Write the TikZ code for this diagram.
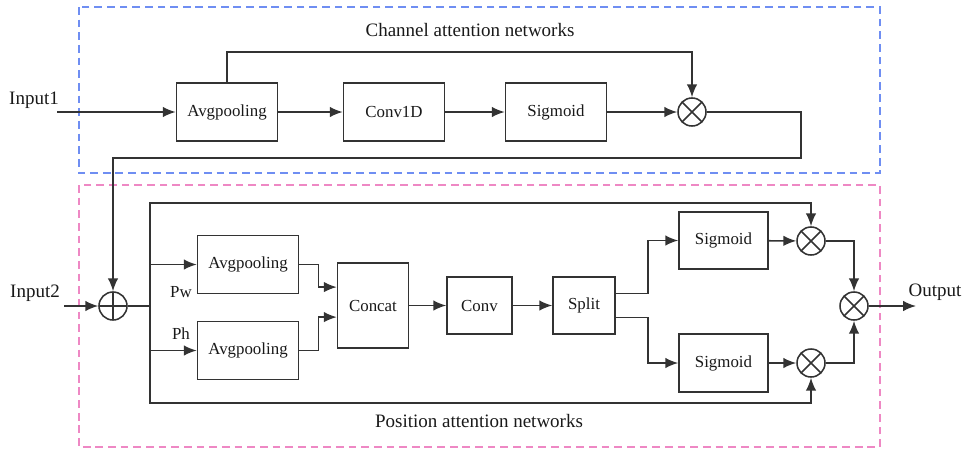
\documentclass[tikz,border=0pt]{standalone}
\usepackage{fontspec}
\setmainfont{Liberation Serif}
\usetikzlibrary{arrows.meta}
\definecolor{ink}{HTML}{333333}
\definecolor{chanblue}{HTML}{6F8EF2}
\definecolor{pospink}{HTML}{EE88C4}
\tikzset{
  box/.style   = {rectangle, draw=ink, line width=1.1pt, text=black!90,
                  minimum width=2.525cm, minimum height=1.45cm, align=center,
                  font=\fontsize{12}{14}\selectfont},
  mult/.style  = {circle, draw=ink, line width=1.1pt, minimum size=0.7cm, inner sep=0pt,
                  path picture={\draw[ink, line width=1.1pt]
                    (path picture bounding box.north west) -- (path picture bounding box.south east)
                    (path picture bounding box.north east) -- (path picture bounding box.south west);}},
  add/.style   = {circle, draw=ink, line width=1.1pt, minimum size=0.7cm, inner sep=0pt,
                  path picture={\draw[ink, line width=1.1pt]
                    (path picture bounding box.north) -- (path picture bounding box.south)
                    (path picture bounding box.west) -- (path picture bounding box.east);}},
  label/.style = {font=\fontsize{13.5}{16}\selectfont, text=black!90},
  tag/.style   = {font=\fontsize{12}{14}\selectfont, text=black!90},
  flow/.style  = {-{Latex[length=3.2mm, width=2.6mm]}, line width=1.1pt, draw=ink},
  wire/.style  = {line width=1.1pt, draw=ink},
  frame/.style = {dash pattern=on 5.5pt off 3.5pt, line width=1.1pt},
}
\begin{document}
\begin{tikzpicture}[x=0.025cm, y=-0.025cm]
      \useasboundingbox (0,0) rectangle (967,448);
      % frames
      \draw[frame, chanblue] (79,7) rectangle (880,173);
      \draw[frame, pospink] (79,185) rectangle (880,447);
      \node[label] (chantitle) at (470,30) {Channel attention networks};
      \node[label] (postitle)  at (479,421) {Position attention networks};

      % channel attention
      \node[label] (in1) at (34,100) {Input1};
      \coordinate (in1s) at (57,112);
      \node[box] (cpool)  at (227,112) {Avgpooling};
      \node[box] (conv1d) at (394,112) {Conv1D};
      \node[box] (csig)   at (556,112) {Sigmoid};
      \node[mult] (cmul)  at (692,112) {};
      \coordinate (ctop)  at (692,52);
      \coordinate (cbend) at (801,158);
      \draw[flow] (in1s) -- (cpool);
      \draw[flow] (cpool) -- (conv1d);
      \draw[flow] (conv1d) -- (csig);
      \draw[flow] (csig) -- (cmul);
      \draw[flow] (cpool.north) |- (ctop) -- (cmul);

      % position attention
      \node[label] (in2) at (35,293) {Input2};
      \coordinate (in2s) at (64,306);
      \node[add] (padd) at (113,306) {};
      \draw[flow] (cmul) -| (cbend) -| (padd);
      \draw[flow] (in2s) -- (padd);
      \coordinate (fork) at (150,306);
      \coordinate (ptop) at (150,203);
      \coordinate (pbot) at (150,403);
      \draw[wire] (padd) -- (fork);

      \node[box] (ppoolw) at (248,264.5) {Avgpooling};
      \node[box] (ppoolh) at (248,350.5) {Avgpooling};
      \node[tag] (pw) at (181,292) {Pw};
      \node[tag] (ph) at (181,334) {Ph};
      \node[box, minimum width=1.775cm, minimum height=2.125cm] (concat) at (373,305.5) {Concat};
      \node[box, minimum width=1.625cm, minimum height=1.425cm] (conv)   at (479.5,305.5) {Conv};
      \node[box, minimum width=1.55cm, minimum height=1.425cm]  (split)  at (584,305.5) {Split};
      \node[box, minimum width=2.225cm, minimum height=1.425cm] (psigw)  at (723.5,240.5) {Sigmoid};
      \node[box, minimum width=2.225cm, minimum height=1.45cm]  (psigh)  at (723.5,363) {Sigmoid};
      \node[mult] (pmulw) at (811,241) {};
      \node[mult] (pmulh) at (811,363) {};
      \node[mult] (pout)  at (854,306) {};
      \node[label] (outtxt) at (935,292) {Output};
      \coordinate (outend) at (916,306);

      \draw[flow] (fork) -- (ptop) -| (pmulw);
      \draw[flow] (fork) -- (pbot) -| (pmulh);
      \draw[flow] (ppoolw.west -| fork) -- (ppoolw.west);
      \draw[flow] (ppoolh.west -| fork) -- (ppoolh.west);
      \draw[flow] (ppoolw.east) -- ++(19,0) |- ([yshift=0.46cm]concat.west);
      \draw[flow] (ppoolh.east) -- ++(19,0) |- ([yshift=-0.29cm]concat.west);
      \draw[flow] (concat) -- (conv);
      \draw[flow] (conv) -- (split);
      \draw[flow] ([yshift=0.3cm]split.east) -- ++(32,0) |- (psigw);
      \draw[flow] ([yshift=-0.3cm]split.east) -- ++(32,0) |- (psigh);
      \draw[flow] (psigw) -- (pmulw);
      \draw[flow] (psigh) -- (pmulh);
      \draw[flow] (pmulw) -| (pout);
      \draw[flow] (pmulh) -| (pout);
      \draw[flow] (pout) -- (outend);
    \end{tikzpicture}
\end{document}
